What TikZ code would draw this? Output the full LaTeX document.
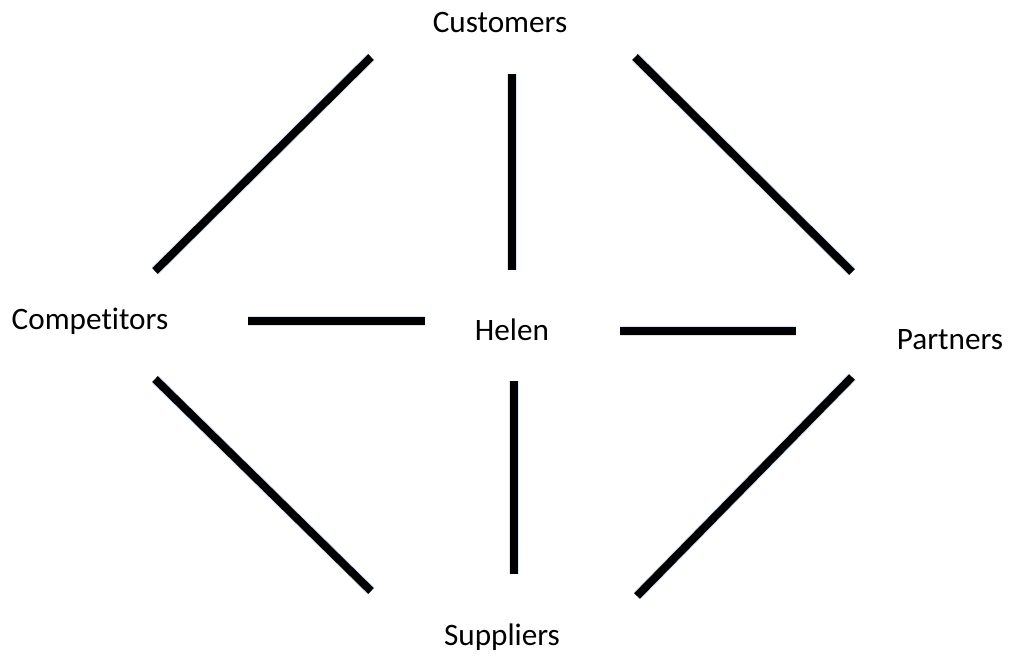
\documentclass[tikz,border=0pt]{standalone}
\usepackage{fontspec}
\setmainfont[Ligatures=NoCommon]{Carlito}
\usetikzlibrary{calc}

\begin{document}
\begin{tikzpicture}[x=0.5pt, y=-0.5pt,
  font=\fontsize{15.6pt}{18pt}\selectfont,
  party/.style={anchor=base, inner sep=0pt},
  link/.style={line width=4pt, black},
  glow/.style={line width=5pt, color={rgb,255:red,214;green,228;blue,246}, shift={(0.8,2)}}]

\useasboundingbox (0,0) rectangle (1011,655);

% ---------- parties ----------
\node[party] (cust)  at (500,32)  {Customers};
\node[party] (comp)  at (90,329)  {Competitors};
\node[party] (helen) at (512,340) {Helen};
\node[party] (part)  at (950,349) {Partners};
\node[party] (supp)  at (502,645) {Suppliers};

% ---------- link ends ----------
\coordinate (cust-comp) at (371,57);   \coordinate (comp-cust) at (155,271);
\coordinate (cust-helen) at (512,74);  \coordinate (helen-cust) at (512,270);
\coordinate (cust-part) at (635,57);   \coordinate (part-cust) at (852,272);
\coordinate (comp-helen) at (248,321); \coordinate (helen-comp) at (425,321);
\coordinate (helen-part) at (620,331); \coordinate (part-helen) at (796,331);
\coordinate (comp-supp) at (155,379);  \coordinate (supp-comp) at (371,591);
\coordinate (helen-supp) at (514,381); \coordinate (supp-helen) at (514,574);
\coordinate (part-supp) at (852,377);  \coordinate (supp-part) at (637,596);

% ---------- links ----------
\foreach \a/\b in {cust/comp, cust/helen, cust/part, comp/helen,
                   helen/part, comp/supp, helen/supp, part/supp}{
  \draw[glow] (\a-\b) -- (\b-\a);
  \draw[link] (\a-\b) -- (\b-\a);
}

\end{tikzpicture}
\end{document}
